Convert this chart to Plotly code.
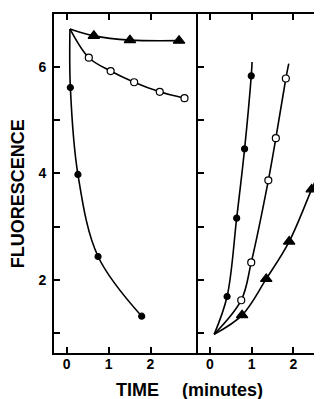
import plotly.graph_objects as go

# ---- Data ----
# Left panel: fluorescence decay
left_filled_x = [0.09, 0.27, 0.75, 1.79]
left_filled_y = [5.61, 3.98, 2.44, 1.32]
left_open_x = [0.53, 1.05, 1.61, 2.22, 2.81]
left_open_y = [6.17, 5.92, 5.71, 5.53, 5.41]
left_tri_x = [0.65, 1.51, 2.68]
left_tri_y = [6.58, 6.50, 6.49]
left_start = (0.08, 6.71)

# Right panel: fluorescence recovery
right_filled_x = [0.41, 0.64, 0.83, 0.99]
right_filled_y = [1.69, 3.16, 4.46, 5.83]
right_filled_end = (1.01, 6.09)
right_open_x = [0.75, 0.99, 1.40, 1.58, 1.82]
right_open_y = [1.62, 2.33, 3.87, 4.66, 5.78]
right_open_end = (1.89, 6.06)
right_tri_x = [0.77, 1.35, 1.90, 2.44]
right_tri_y = [1.34, 2.02, 2.72, 3.70]
right_tri_end = (2.64, 4.05)
right_start = (0.10, 0.98)

y_ticks = [1, 2, 3, 4, 5, 6]
y_tick_labels = ["", "2", "", "4", "", "6"]
x_ticks = [0, 1, 2]
x_tick_labels = ["0", "1", "2"]

FONT = "Liberation Sans"
LINE_W = 1.6

# page body has an 8px default margin; the figure is sized to fit inside the window
W, H = 314, 391
ML, MT, MB, MR = 46, 6, 46, 0
PW, PH = W - ML - MR, H - MT - MB

fig = go.Figure()


def add_series(xs, ys, start, end, symbol, fill, size, xa, ya):
    lx = [start[0]] + list(xs) + ([end[0]] if end else [])
    ly = [start[1]] + list(ys) + ([end[1]] if end else [])
    fig.add_trace(go.Scatter(x=lx, y=ly, mode="lines",
                             line=dict(color="black", width=LINE_W, shape="spline", smoothing=1.0),
                             xaxis=xa, yaxis=ya, hoverinfo="skip", showlegend=False))
    fig.add_trace(go.Scatter(x=xs, y=ys, mode="markers",
                             marker=dict(symbol=symbol, size=size, color=fill,
                                         line=dict(color="black", width=1.2)),
                             xaxis=xa, yaxis=ya, showlegend=False))


add_series(left_filled_x, left_filled_y, left_start, None, "circle", "black", 6, "x", "y")
add_series(left_open_x, left_open_y, left_start, None, "circle", "white", 7, "x", "y")
add_series(left_tri_x, left_tri_y, left_start, None, "triangle-up", "black", 10, "x", "y")

add_series(right_filled_x, right_filled_y, right_start, right_filled_end, "circle", "black", 6, "x2", "y2")
add_series(right_open_x, right_open_y, right_start, right_open_end, "circle", "white", 7, "x2", "y2")
add_series(right_tri_x, right_tri_y, right_start, right_tri_end, "triangle-up", "black", 10, "x2", "y2")

split = 145 / PW

axis_common = dict(showgrid=False, zeroline=False, showline=True, linecolor="black",
                   linewidth=2, ticks="inside", ticklen=6, tickwidth=1.5, tickcolor="black",
                   tickfont=dict(family=FONT, size=14, color="black", weight="bold"))

fig.update_layout(
    width=W, height=H,
    margin=dict(l=ML, r=MR, t=MT, b=MB),
    paper_bgcolor="white", plot_bgcolor="white",
    xaxis=dict(domain=[0, split], range=[-0.30, 3.13], tickvals=x_ticks, ticktext=x_tick_labels,
               anchor="y", mirror="ticks", ticklabelstandoff=-3, **axis_common),
    xaxis2=dict(domain=[split, 1], range=[-0.29, 2.64], tickvals=x_ticks, ticktext=x_tick_labels,
                anchor="y2", mirror="ticks", ticklabelstandoff=-3, **axis_common),
    yaxis=dict(range=[0.63, 6.99], tickvals=y_ticks, ticktext=y_tick_labels, anchor="x",
               mirror=False, ticklabelstandoff=3, **axis_common),
    yaxis2=dict(range=[0.63, 6.99], tickvals=y_ticks, ticktext=[""] * len(y_ticks), anchor="x2",
                mirror="ticks", **axis_common),
)


def px_x(px):  # page pixel -> paper x
    return (px - 8 - ML) / PW


def px_y(py):  # page pixel -> paper y
    return (H - MB - (py - 8)) / PH


title_font = dict(family=FONT, size=18, color="black", weight="bold")
fig.add_annotation(text="TIME", xref="paper", yref="paper", x=px_x(138.5), y=px_y(390),
                   showarrow=False, font=title_font, xanchor="center", yanchor="middle")
fig.add_annotation(text="(minutes)", xref="paper", yref="paper", x=px_x(223.5), y=px_y(390),
                   showarrow=False, font=title_font, xanchor="center", yanchor="middle")
fig.add_annotation(text="FLUORESCENCE", xref="paper", yref="paper", x=px_x(18), y=px_y(194),
                   textangle=-90, showarrow=False, font=title_font,
                   xanchor="center", yanchor="middle")

fig.write_html("out.html")
